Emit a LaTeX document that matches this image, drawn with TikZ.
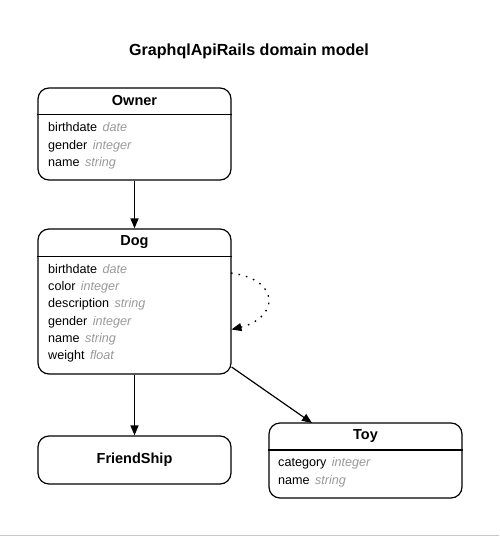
\documentclass[tikz,border=0pt]{standalone}
\usepackage{fontspec}
\setmainfont{Liberation Sans}
\usetikzlibrary{arrows.meta}
\definecolor{typegray}{HTML}{999999}
\definecolor{rulegray}{HTML}{C8C8C8}
\tikzset{
  entity/.style={draw=black, line width=1.2pt, rounded corners=11pt, inner sep=0pt},
  header/.style={font=\fontsize{14.5}{17}\selectfont\bfseries, inner sep=0pt, anchor=center},
  attr/.style={font=\fontsize{12.6}{17.3}\selectfont, inner sep=0pt, anchor=north west, align=left},
  sep/.style={line width=1.1pt},
  rel/.style={line width=1.2pt, -{Triangle[length=10pt,width=8pt]}},
  selfrel/.style={line width=1.3pt, dash pattern=on 1.6pt off 6pt, -{Triangle[length=10pt,width=8pt]}},
}
\newcommand{\ty}[1]{\hspace{0.15em}\textcolor{typegray}{\itshape #1}}
\begin{document}
\begin{tikzpicture}[x=1pt,y=-1pt]
\useasboundingbox (0,0) rectangle (499,537);
\fill[white] (0,0) rectangle (499,537);
\draw[rulegray, line width=1pt] (0,535.5) -- (499,535.5);

\node[font=\fontsize{16.1}{19}\selectfont\bfseries, inner sep=0pt] (title) at (249,51) {GraphqlApiRails domain model};

% Owner
\node[entity, minimum width=193pt, minimum height=92pt] (owner) at (134.5,134) {};
\node[header] (ownerh) at (134.5,100.5) {Owner};
\draw[sep] (owner.west |- 0,114.5) -- (owner.east |- 0,114.5);
\node[attr] (ownera) at (48,122.5) {birthdate \ty{date}\\gender \ty{integer}\\name \ty{string}};

% Dog
\node[entity, minimum width=193pt, minimum height=145pt] (dog) at (134.5,301.5) {};
\node[header] (dogh) at (134.5,242.5) {Dog};
\draw[sep] (dog.west |- 0,256.5) -- (dog.east |- 0,256.5);
\node[attr] (doga) at (48,264) {birthdate \ty{date}\\color \ty{integer}\\description \ty{string}\\gender \ty{integer}\\name \ty{string}\\weight \ty{float}};

% FriendShip
\node[entity, minimum width=193pt, minimum height=48pt] (friend) at (134.5,460) {};
\node[header] (friendh) at (134.5,459.5) {FriendShip};

% Toy
\node[entity, minimum width=193pt, minimum height=75pt] (toy) at (365.5,460.5) {};
\node[header] (toyh) at (365.5,436) {Toy};
\draw[sep] (toy.west |- 0,450) -- (toy.east |- 0,450);
\node[attr] (toya) at (278,457.5) {category \ty{integer}\\name \ty{string}};

% connectors
\draw[rel] (owner.south) -- (dog.north);
\draw[rel] (dog.south) -- (friend.north);
\coordinate (toyin) at (312,423);
\draw[rel] (dog.-34.5) -- (toyin);
\coordinate (loopout) at (231,273);
\coordinate (loopin) at (231.5,329.5);
\draw[selfrel] (loopout) .. controls (282,280) and (278,318) .. (loopin);
\end{tikzpicture}
\end{document}
